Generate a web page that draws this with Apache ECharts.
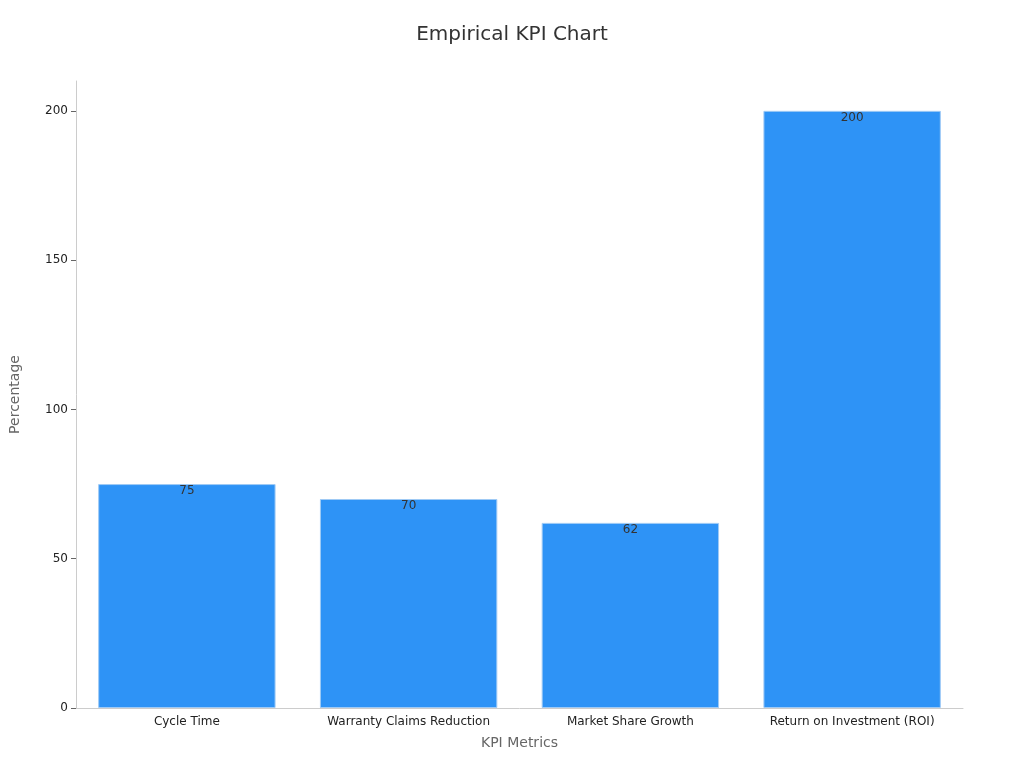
<!DOCTYPE html>
<html>
<head>
<meta charset="utf-8">
<script src="https://cdn.jsdelivr.net/npm/echarts@6/dist/echarts.min.js"></script>
<style>html,body{margin:0;padding:0;background:#fff}#main{width:1024px;height:768px}</style>
</head>
<body>
<div id="main"></div>
<script>
var categories = ['Cycle Time', 'Warranty Claims Reduction', 'Market Share Growth', 'Return on Investment (ROI)'];
var values = [75, 70, 62, 200];

var chart = echarts.init(document.getElementById('main'));
var option = {
  backgroundColor: '#fff',
  textStyle: { fontFamily: 'DejaVu Sans' },
  title: {
    text: 'Empirical KPI Chart',
    left: 'center',
    top: 20,
    textStyle: { fontSize: 20, fontWeight: 'normal', color: '#333' }
  },
  grid: { left: 68, right: 61, top: 81, bottom: 60 },
  xAxis: {
    type: 'category',
    data: categories,
    name: 'KPI Metrics',
    nameLocation: 'middle',
    nameGap: 28,
    nameTextStyle: { fontSize: 14, color: '#666' },
    axisLine: { lineStyle: { color: '#ccc' } },
    axisTick: { alignWithLabel: true, lineStyle: { color: '#999' } },
    axisLabel: { color: '#222', fontSize: 12 }
  },
  yAxis: {
    type: 'value',
    min: 0,
    max: 210,
    interval: 50,
    name: 'Percentage',
    nameLocation: 'middle',
    nameGap: 54,
    nameTextStyle: { fontSize: 14, color: '#666' },
    axisLine: { show: true, lineStyle: { color: '#ccc' } },
    axisTick: { show: true, lineStyle: { color: '#666' } },
    axisLabel: { color: '#222', fontSize: 12, showMaxLabel: false },
    splitLine: { show: false }
  },
  series: [{
    type: 'bar',
    data: values,
    barCategoryGap: '20%',
    itemStyle: { color: '#2E93F6', borderColor: '#9fcaf5', borderWidth: 1 },
    label: { show: true, position: 'insideTop', color: '#333', fontSize: 12, offset: [0, -4] }
  }]
};
chart.setOption(option);
</script>
</body>
</html>
